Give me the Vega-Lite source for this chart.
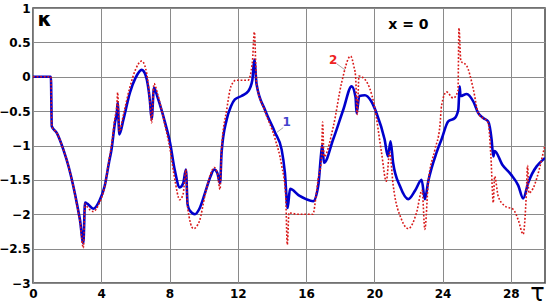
{
  "$schema": "https://vega.github.io/schema/vega-lite/v6.json",
  "autosize": "none",
  "width": 512,
  "height": 275,
  "padding": {"left": 33, "top": 8, "right": 5, "bottom": 23},
  "background": "white",
  "config": {
    "view": {"stroke": "#444", "strokeWidth": 1.5},
    "axis": {"domain": false, "ticks": false, "labelOverlap": false, "labelFlush": false, "gridColor": "#8a8a8a", "gridWidth": 1, "labelFont": "DejaVu Sans", "labelFontWeight": "bold", "labelFontSize": 12, "labelColor": "#000"}
  },
  "datasets": {
    "curves": [
      {"s":"1","t":0,"k":0},{"s":"1","t":1.05,"k":0},{"s":"1","t":1.1,"k":-0.72},{"s":"1","t":1.4,"k":-0.82},{"s":"1","t":1.78,"k":-1.06},{"s":"1","t":2.1,"k":-1.32},{"s":"1","t":2.36,"k":-1.59},{"s":"1","t":2.6,"k":-1.88},{"s":"1","t":2.75,"k":-2.08},{"s":"1","t":2.95,"k":-2.42},{"s":"1","t":3.05,"k":-1.83},{"s":"1","t":3.2,"k":-1.85},{"s":"1","t":3.53,"k":-1.92},{"s":"1","t":3.9,"k":-1.8},{"s":"1","t":4.2,"k":-1.59},{"s":"1","t":4.45,"k":-1.25},{"s":"1","t":4.6,"k":-1.06},{"s":"1","t":4.8,"k":-0.67},{"s":"1","t":4.92,"k":-0.5},{"s":"1","t":4.96,"k":-0.38},{"s":"1","t":5.06,"k":-0.84},{"s":"1","t":5.3,"k":-0.62},{"s":"1","t":5.68,"k":-0.23},{"s":"1","t":6.0,"k":-0.02},{"s":"1","t":6.37,"k":0.1},{"s":"1","t":6.6,"k":0.02},{"s":"1","t":6.85,"k":-0.35},{"s":"1","t":6.95,"k":-0.62},{"s":"1","t":7.09,"k":-0.16},{"s":"1","t":7.3,"k":-0.3},{"s":"1","t":7.73,"k":-0.66},{"s":"1","t":8.03,"k":-0.96},{"s":"1","t":8.3,"k":-1.35},{"s":"1","t":8.6,"k":-1.61},{"s":"1","t":8.8,"k":-1.55},{"s":"1","t":8.96,"k":-1.35},{"s":"1","t":9.06,"k":-1.86},{"s":"1","t":9.2,"k":-1.95},{"s":"1","t":9.49,"k":-2.0},{"s":"1","t":9.75,"k":-1.92},{"s":"1","t":10.08,"k":-1.69},{"s":"1","t":10.4,"k":-1.45},{"s":"1","t":10.62,"k":-1.35},{"s":"1","t":10.8,"k":-1.4},{"s":"1","t":10.96,"k":-1.55},{"s":"1","t":11.05,"k":-1.1},{"s":"1","t":11.35,"k":-0.62},{"s":"1","t":11.6,"k":-0.43},{"s":"1","t":11.83,"k":-0.33},{"s":"1","t":12.22,"k":-0.28},{"s":"1","t":12.61,"k":-0.21},{"s":"1","t":12.85,"k":-0.05},{"s":"1","t":12.97,"k":0.25},{"s":"1","t":13.1,"k":-0.11},{"s":"1","t":13.59,"k":-0.48},{"s":"1","t":14.18,"k":-0.81},{"s":"1","t":14.57,"k":-1.06},{"s":"1","t":14.76,"k":-1.4},{"s":"1","t":14.92,"k":-1.91},{"s":"1","t":15.06,"k":-1.63},{"s":"1","t":15.6,"k":-1.73},{"s":"1","t":16.0,"k":-1.78},{"s":"1","t":16.42,"k":-1.81},{"s":"1","t":16.71,"k":-1.59},{"s":"1","t":16.91,"k":-1.06},{"s":"1","t":16.95,"k":-1.0},{"s":"1","t":17.05,"k":-1.25},{"s":"1","t":17.59,"k":-0.91},{"s":"1","t":18.18,"k":-0.48},{"s":"1","t":18.67,"k":-0.14},{"s":"1","t":18.9,"k":-0.3},{"s":"1","t":18.96,"k":-0.53},{"s":"1","t":19.12,"k":-0.28},{"s":"1","t":19.45,"k":-0.27},{"s":"1","t":19.8,"k":-0.35},{"s":"1","t":20.13,"k":-0.53},{"s":"1","t":20.6,"k":-0.91},{"s":"1","t":20.8,"k":-1.16},{"s":"1","t":20.95,"k":-0.94},{"s":"1","t":21.1,"k":-1.25},{"s":"1","t":21.5,"k":-1.59},{"s":"1","t":21.99,"k":-1.78},{"s":"1","t":22.4,"k":-1.65},{"s":"1","t":22.77,"k":-1.5},{"s":"1","t":22.96,"k":-1.78},{"s":"1","t":23.16,"k":-1.52},{"s":"1","t":23.65,"k":-1.1},{"s":"1","t":23.94,"k":-0.91},{"s":"1","t":24.33,"k":-0.65},{"s":"1","t":24.72,"k":-0.6},{"s":"1","t":24.92,"k":-0.48},{"s":"1","t":25.0,"k":-0.14},{"s":"1","t":25.05,"k":-0.28},{"s":"1","t":25.41,"k":-0.25},{"s":"1","t":25.8,"k":-0.36},{"s":"1","t":26.09,"k":-0.53},{"s":"1","t":26.38,"k":-0.6},{"s":"1","t":26.67,"k":-0.65},{"s":"1","t":26.87,"k":-0.91},{"s":"1","t":26.97,"k":-1.16},{"s":"1","t":27.05,"k":-1.08},{"s":"1","t":27.5,"k":-1.28},{"s":"1","t":28.0,"k":-1.42},{"s":"1","t":28.43,"k":-1.58},{"s":"1","t":28.72,"k":-1.77},{"s":"1","t":29.02,"k":-1.54},{"s":"1","t":30,"k":-1.18},
      {"s":"2","t":0,"k":0},{"s":"2","t":1.05,"k":0},{"s":"2","t":1.1,"k":-0.72},{"s":"2","t":1.4,"k":-0.82},{"s":"2","t":1.78,"k":-1.06},{"s":"2","t":2.1,"k":-1.32},{"s":"2","t":2.36,"k":-1.59},{"s":"2","t":2.6,"k":-1.9},{"s":"2","t":2.75,"k":-2.1},{"s":"2","t":2.95,"k":-2.49},{"s":"2","t":3.05,"k":-1.85},{"s":"2","t":3.2,"k":-1.9},{"s":"2","t":3.53,"k":-1.96},{"s":"2","t":3.9,"k":-1.83},{"s":"2","t":4.2,"k":-1.6},{"s":"2","t":4.45,"k":-1.22},{"s":"2","t":4.6,"k":-1.0},{"s":"2","t":4.8,"k":-0.6},{"s":"2","t":4.92,"k":-0.4},{"s":"2","t":4.96,"k":-0.23},{"s":"2","t":5.06,"k":-0.8},{"s":"2","t":5.3,"k":-0.55},{"s":"2","t":5.68,"k":-0.15},{"s":"2","t":6.0,"k":0.1},{"s":"2","t":6.37,"k":0.23},{"s":"2","t":6.6,"k":0.12},{"s":"2","t":6.85,"k":-0.35},{"s":"2","t":6.95,"k":-0.67},{"s":"2","t":7.09,"k":-0.1},{"s":"2","t":7.3,"k":-0.25},{"s":"2","t":7.73,"k":-0.7},{"s":"2","t":8.03,"k":-1.05},{"s":"2","t":8.3,"k":-1.48},{"s":"2","t":8.6,"k":-1.79},{"s":"2","t":8.8,"k":-1.7},{"s":"2","t":8.96,"k":-1.35},{"s":"2","t":9.06,"k":-1.9},{"s":"2","t":9.4,"k":-2.21},{"s":"2","t":9.75,"k":-2.1},{"s":"2","t":10.08,"k":-1.72},{"s":"2","t":10.4,"k":-1.42},{"s":"2","t":10.62,"k":-1.32},{"s":"2","t":10.8,"k":-1.4},{"s":"2","t":10.96,"k":-1.64},{"s":"2","t":11.05,"k":-1.05},{"s":"2","t":11.35,"k":-0.48},{"s":"2","t":11.6,"k":-0.14},{"s":"2","t":11.9,"k":-0.05},{"s":"2","t":12.6,"k":-0.05},{"s":"2","t":12.85,"k":0.2},{"s":"2","t":12.97,"k":0.65},{"s":"2","t":13.1,"k":-0.1},{"s":"2","t":13.59,"k":-0.5},{"s":"2","t":14.18,"k":-0.9},{"s":"2","t":14.57,"k":-1.29},{"s":"2","t":14.8,"k":-1.7},{"s":"2","t":14.9,"k":-2.44},{"s":"2","t":15.0,"k":-1.98},{"s":"2","t":15.5,"k":-2.0},{"s":"2","t":16.4,"k":-2.0},{"s":"2","t":16.6,"k":-1.7},{"s":"2","t":16.71,"k":-1.49},{"s":"2","t":16.9,"k":-1.2},{"s":"2","t":16.97,"k":-0.66},{"s":"2","t":17.05,"k":-1.16},{"s":"2","t":17.6,"k":-0.72},{"s":"2","t":18.08,"k":-0.09},{"s":"2","t":18.61,"k":0.3},{"s":"2","t":18.8,"k":0.15},{"s":"2","t":18.9,"k":0.01},{"s":"2","t":19.0,"k":-0.55},{"s":"2","t":19.1,"k":0.01},{"s":"2","t":19.45,"k":-0.04},{"s":"2","t":20.0,"k":-0.42},{"s":"2","t":20.42,"k":-1.1},{"s":"2","t":20.7,"k":-1.52},{"s":"2","t":20.9,"k":-1.1},{"s":"2","t":21.1,"k":-1.57},{"s":"2","t":21.6,"k":-2.08},{"s":"2","t":21.99,"k":-2.21},{"s":"2","t":22.47,"k":-1.98},{"s":"2","t":22.8,"k":-1.65},{"s":"2","t":22.96,"k":-2.22},{"s":"2","t":23.16,"k":-1.54},{"s":"2","t":23.55,"k":-1.06},{"s":"2","t":23.84,"k":-0.72},{"s":"2","t":23.94,"k":-0.42},{"s":"2","t":24.23,"k":-0.22},{"s":"2","t":24.62,"k":-0.31},{"s":"2","t":24.9,"k":-0.21},{"s":"2","t":24.96,"k":0.71},{"s":"2","t":25.07,"k":0.23},{"s":"2","t":25.41,"k":0.16},{"s":"2","t":25.8,"k":-0.18},{"s":"2","t":26.09,"k":-0.53},{"s":"2","t":26.67,"k":-0.67},{"s":"2","t":26.83,"k":-1.16},{"s":"2","t":26.97,"k":-1.83},{"s":"2","t":27.05,"k":-1.45},{"s":"2","t":27.26,"k":-1.74},{"s":"2","t":27.65,"k":-1.88},{"s":"2","t":28.14,"k":-1.93},{"s":"2","t":28.43,"k":-2.08},{"s":"2","t":28.72,"k":-2.29},{"s":"2","t":28.9,"k":-1.74},{"s":"2","t":28.98,"k":-1.29},{"s":"2","t":29.05,"k":-1.69},{"s":"2","t":30,"k":-0.99}
    ],
    "leaders": [
      {"g":"L1","t":14.66,"k":-0.74},{"g":"L1","t":14.28,"k":-0.81},
      {"g":"L2","t":17.79,"k":0.19},{"g":"L2","t":18.28,"k":0.1}
    ],
    "labels": [
      {"label":"1","t":14.86,"k":-0.66},
      {"label":"2","t":17.59,"k":0.25}
    ],
    "note": [{"label":"x = 0","t":22.0,"k":0.76}]
  },
  "encoding": {
    "x": {"field": "t", "type": "quantitative", "scale": {"domain": [0, 30], "nice": false},
      "axis": {"values": [0, 4, 8, 12, 16, 20, 24, 28], "format": "d", "labelOverlap": false, "labelPadding": 5, "title": "τ", "titleFont": "DejaVu Sans", "titleFontWeight": "normal", "titleFontSize": 24, "titleX": 504, "titleY": 10, "titleAlign": "center", "titleBaseline": "middle", "titleAnchor": null}},
    "y": {"field": "k", "type": "quantitative", "scale": {"domain": [-3, 1], "nice": false, "zero": false},
      "axis": {"values": [-3, -2.5, -2, -1.5, -1, -0.5, 0, 0.5, 1], "labelExpr": "format(datum.value, '.1~f')", "labelOverlap": false, "labelPadding": 3, "title": "κ", "titleAngle": 0, "titleFont": "DejaVu Sans", "titleFontWeight": "bold", "titleFontSize": 20, "titleX": 11, "titleY": 11, "titleAlign": "center", "titleBaseline": "middle", "titleAnchor": null}}
  },
  "layer": [
    {
      "data": {"name": "curves"},
      "transform": [{"filter": "datum.s === '1'"}],
      "mark": {"type": "line", "color": "#0000cc", "strokeWidth": 2.6, "interpolate": "monotone", "clip": true},
      "encoding": {"order": {"field": "t", "type": "quantitative"}}
    },
    {
      "data": {"name": "curves"},
      "transform": [{"filter": "datum.s === '2'"}],
      "mark": {"type": "line", "color": "#d81818", "strokeWidth": 1.6, "strokeDash": [1.8, 1.8], "interpolate": "monotone", "clip": true},
      "encoding": {"order": {"field": "t", "type": "quantitative"}}
    },
    {
      "data": {"name": "leaders"},
      "mark": {"type": "line", "color": "#aaaaaa", "strokeWidth": 1},
      "encoding": {"detail": {"field": "g", "type": "nominal"}}
    },
    {
      "data": {"name": "labels"},
      "mark": {"type": "text", "font": "DejaVu Sans", "fontWeight": "bold", "fontSize": 12, "baseline": "middle", "align": "center"},
      "encoding": {
        "text": {"field": "label"},
        "color": {"field": "label", "type": "nominal", "scale": {"domain": ["1", "2"], "range": ["#4444cc", "#ee2222"]}, "legend": null}
      }
    },
    {
      "data": {"name": "note"},
      "mark": {"type": "text", "font": "DejaVu Sans", "fontWeight": "bold", "fontSize": 14, "baseline": "middle", "align": "center", "color": "#000"},
      "encoding": {"text": {"field": "label"}}
    }
  ]
}
